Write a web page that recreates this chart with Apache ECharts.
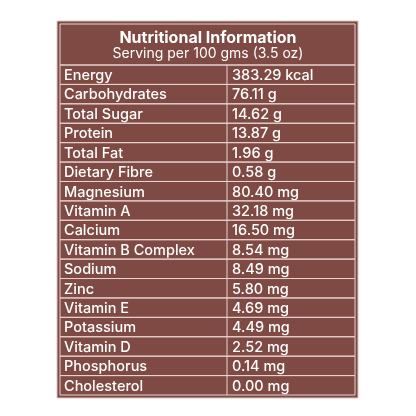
<!DOCTYPE html><html><head><meta charset="utf-8"><script src="https://cdn.jsdelivr.net/npm/echarts@6/dist/echarts.min.js"></script>
<style>html,body{margin:0;background:#fff}#c{width:416px;height:416px}</style></head><body><div id="c"></div><script>
const nutrients=["Energy","Carbohydrates","Total Sugar","Protein","Total Fat","Dietary Fibre","Magnesium","Vitamin A","Calcium","Vitamin B Complex","Sodium","Zinc","Vitamin E","Potassium","Vitamin D","Phosphorus","Cholesterol"];
const amounts=["383.29 kcal","76.11 g","14.62 g","13.87 g","1.96 g","0.58 g","80.40 mg","32.18 mg","16.50 mg","8.54 mg","8.49 mg","5.80 mg","4.69 mg","4.49 mg","2.52 mg","0.14 mg","0.00 mg"];
const titleText="Nutritional Information";
const subText="Serving per 100 gms (3.5 oz)";
const bg="#7e4a43", line="#e6d3cf", font="Inter";
const ch=echarts.init(document.getElementById('c'));
ch.setOption({
 backgroundColor:'#fff',
 graphic:[{type:'rect',shape:{x:57,y:21,width:301,height:377},style:{fill:bg,stroke:'#d8c6c2',lineWidth:1},z:-10},
  {type:'rect',shape:{x:60,y:24,width:295,height:41},style:{fill:'none',stroke:line,lineWidth:1},z:-9}],
 title:{text:titleText,subtext:subText,left:'center',top:25,itemGap:1,
  textStyle:{color:'#fff',fontFamily:font,fontSize:16,fontWeight:'bold'},
  subtextStyle:{color:'#fff',fontFamily:font,fontSize:14}},
 grid:{left:60,right:61,top:65,bottom:21},
 xAxis:{type:'value',min:0,max:1,show:false},
 yAxis:{type:'category',data:nutrients,inverse:true,show:false},
 series:[{type:'custom',data:nutrients.map((n,i)=>[0,i]),
  renderItem:(p,api)=>{const i=api.value(1);const c=p.coordSys;const y=api.coord([0,i])[1];const h=api.size([0,1])[1];
   const y0=y-h/2, xm=227;
   return {type:'group',children:[
    {type:'rect',shape:{x:c.x,y:y0,width:c.width,height:h},style:{fill:'none',stroke:line,lineWidth:1}},
    {type:'line',shape:{x1:xm,y1:y0,x2:xm,y2:y0+h},style:{stroke:line,lineWidth:1}},
    {type:'text',style:{x:c.x+4,y:y+1,text:nutrients[i],fill:'#fff',font:'500 14.5px '+font,verticalAlign:'middle'}},
    {type:'text',style:{x:xm+5,y:y+1,text:amounts[i],fill:'#fff',font:'500 14.5px '+font,verticalAlign:'middle'}}]};
  }}]
});
</script></body></html>
